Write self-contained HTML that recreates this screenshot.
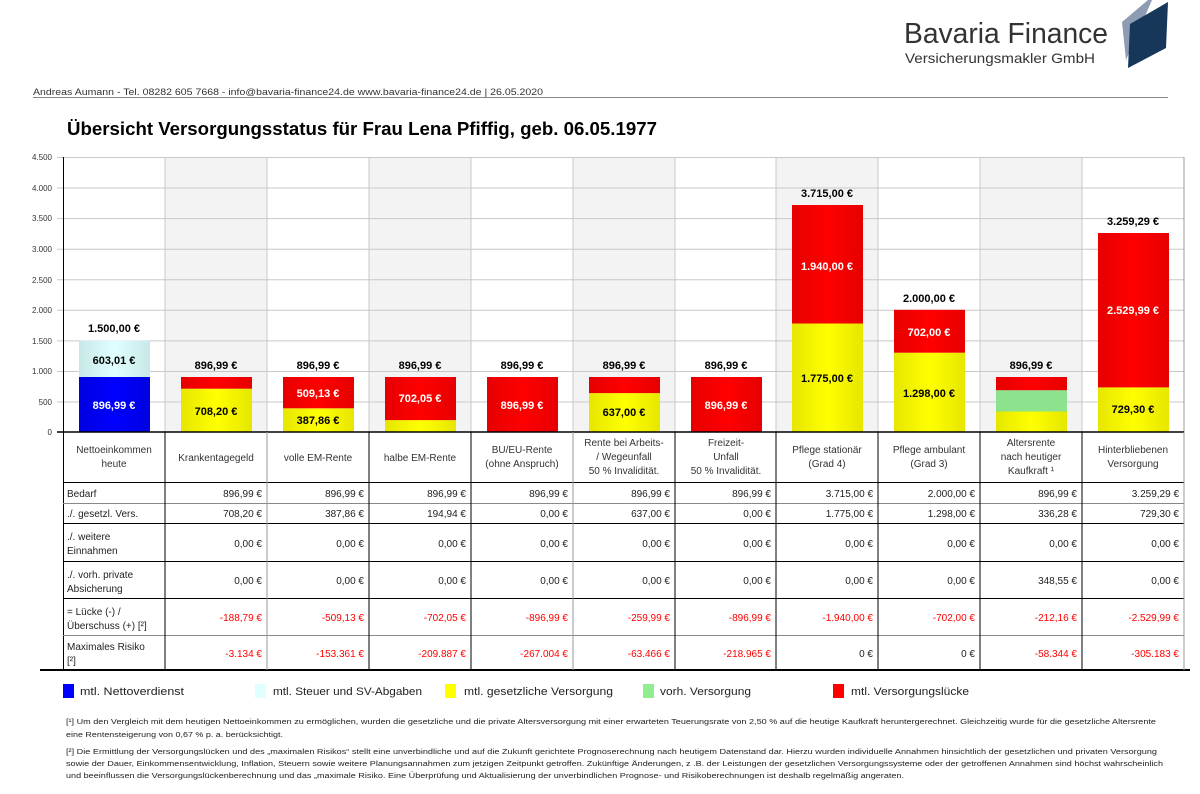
<!DOCTYPE html>
<html><head><meta charset="utf-8"><style>
body{margin:0;background:#fff}
svg{display:block;font-family:"Liberation Sans",sans-serif}
</style></head><body>
<svg width="1200" height="794" viewBox="0 0 1200 794" xmlns="http://www.w3.org/2000/svg">
<defs>
<linearGradient id="gy" x1="0" x2="1"><stop offset="0" stop-color="#e6e600"/><stop offset="0.5" stop-color="#ffff00"/><stop offset="1" stop-color="#e6e600"/></linearGradient>
<linearGradient id="gr" x1="0" x2="1"><stop offset="0" stop-color="#e60000"/><stop offset="0.5" stop-color="#ff0000"/><stop offset="1" stop-color="#e60000"/></linearGradient>
<linearGradient id="gb" x1="0" x2="1"><stop offset="0" stop-color="#0000e0"/><stop offset="0.5" stop-color="#0000ff"/><stop offset="1" stop-color="#0000e0"/></linearGradient>
<linearGradient id="gc" x1="0" x2="1"><stop offset="0" stop-color="#c8e8e8"/><stop offset="0.5" stop-color="#e0ffff"/><stop offset="1" stop-color="#c8e8e8"/></linearGradient>
</defs>
<!-- logo -->
<text x="904" y="43" font-size="29" fill="#333" textLength="204" lengthAdjust="spacingAndGlyphs">Bavaria Finance</text>
<text x="905" y="63" font-size="14" fill="#333" textLength="190" lengthAdjust="spacingAndGlyphs">Versicherungsmakler GmbH</text>
<polygon points="1122,22 1148,0 1152,0 1126,60" fill="#8d9bb3"/>
<polygon points="1130,24 1168,2 1166,48 1128,68" fill="#16365a"/>
<!-- header line -->
<text x="33" y="95" font-size="9" fill="#333" textLength="510" lengthAdjust="spacingAndGlyphs">Andreas Aumann - Tel. 08282 605 7668 - info@bavaria-finance24.de  www.bavaria-finance24.de  | 26.05.2020</text>
<rect x="33" y="97" width="1135" height="1" fill="#888"/>
<text x="67" y="135" font-size="18" font-weight="bold" fill="#000" textLength="590" lengthAdjust="spacingAndGlyphs">Übersicht Versorgungsstatus für Frau Lena Pfiffig, geb. 06.05.1977</text>
<!-- shaded columns -->
<g fill="#f3f3f3">
<rect x="165" y="157" width="102" height="275"/>
<rect x="369" y="157" width="102" height="275"/>
<rect x="573" y="157" width="102" height="275"/>
<rect x="776" y="157" width="102" height="275"/>
<rect x="980" y="157" width="102" height="275"/>
</g>
<!-- grid -->
<g stroke="#c8c8c8" stroke-width="1">
<line x1="57" x2="1184" y1="157.5" y2="157.5"/>
<line x1="57" x2="1184" y1="188" y2="188"/>
<line x1="57" x2="1184" y1="218.6" y2="218.6"/>
<line x1="57" x2="1184" y1="249.2" y2="249.2"/>
<line x1="57" x2="1184" y1="279.8" y2="279.8"/>
<line x1="57" x2="1184" y1="310.3" y2="310.3"/>
<line x1="57" x2="1184" y1="340.9" y2="340.9"/>
<line x1="57" x2="1184" y1="371.5" y2="371.5"/>
<line x1="57" x2="1184" y1="402" y2="402"/>
<line x1="165" x2="165" y1="157" y2="432"/><line x1="267" x2="267" y1="157" y2="432"/>
<line x1="369" x2="369" y1="157" y2="432"/><line x1="471" x2="471" y1="157" y2="432"/>
<line x1="573" x2="573" y1="157" y2="432"/><line x1="675" x2="675" y1="157" y2="432"/>
<line x1="776" x2="776" y1="157" y2="432"/><line x1="878" x2="878" y1="157" y2="432"/>
<line x1="980" x2="980" y1="157" y2="432"/><line x1="1082" x2="1082" y1="157" y2="432"/>
<line x1="1184" x2="1184" y1="157" y2="432" stroke="#999"/>
</g>
<g font-size="8" fill="#333" text-anchor="end">
<text x="52" y="160">4.500</text><text x="52" y="191">4.000</text><text x="52" y="221">3.500</text>
<text x="52" y="252">3.000</text><text x="52" y="283">2.500</text><text x="52" y="313">2.000</text>
<text x="52" y="344">1.500</text><text x="52" y="374">1.000</text><text x="52" y="405">500</text><text x="52" y="435">0</text>
</g>
<!-- bars -->
<rect x="79" y="377" width="71" height="55" fill="url(#gb)"/>
<rect x="79" y="340.5" width="71" height="36.5" fill="url(#gc)"/>
<rect x="181" y="388.7" width="71" height="43.3" fill="url(#gy)"/><rect x="181" y="377" width="71" height="11.7" fill="url(#gr)"/>
<rect x="283" y="408.3" width="71" height="23.7" fill="url(#gy)"/><rect x="283" y="377" width="71" height="31.3" fill="url(#gr)"/>
<rect x="385" y="420.1" width="71" height="11.9" fill="url(#gy)"/><rect x="385" y="377" width="71" height="43.1" fill="url(#gr)"/>
<rect x="487" y="377" width="71" height="55" fill="url(#gr)"/>
<rect x="589" y="393.1" width="71" height="38.9" fill="url(#gy)"/><rect x="589" y="377" width="71" height="16.1" fill="url(#gr)"/>
<rect x="691" y="377" width="71" height="55" fill="url(#gr)"/>
<rect x="792" y="323.5" width="71" height="108.5" fill="url(#gy)"/><rect x="792" y="205" width="71" height="118.5" fill="url(#gr)"/>
<rect x="894" y="352.7" width="71" height="79.3" fill="url(#gy)"/><rect x="894" y="309.8" width="71" height="42.9" fill="url(#gr)"/>
<rect x="996" y="411.5" width="71" height="20.5" fill="url(#gy)"/><rect x="996" y="390.2" width="71" height="21.3" fill="#8de28d"/><rect x="996" y="377" width="71" height="13.2" fill="url(#gr)"/>
<rect x="1098" y="387.4" width="71" height="44.6" fill="url(#gy)"/><rect x="1098" y="233" width="71" height="154.4" fill="url(#gr)"/>
<!-- bar labels -->
<g font-size="11" font-weight="bold" text-anchor="middle" fill="#000">
<text x="114" y="332">1.500,00 €</text><text x="114" y="364">603,01 €</text><text x="114" y="409" fill="#fff">896,99 €</text>
<text x="216" y="369">896,99 €</text><text x="216" y="415">708,20 €</text>
<text x="318" y="369">896,99 €</text><text x="318" y="397" fill="#fff">509,13 €</text><text x="318" y="424">387,86 €</text>
<text x="420" y="369">896,99 €</text><text x="420" y="402" fill="#fff">702,05 €</text>
<text x="522" y="369">896,99 €</text><text x="522" y="409" fill="#fff">896,99 €</text>
<text x="624" y="369">896,99 €</text><text x="624" y="416">637,00 €</text>
<text x="726" y="369">896,99 €</text><text x="726" y="409" fill="#fff">896,99 €</text>
<text x="827" y="197">3.715,00 €</text><text x="827" y="270" fill="#fff">1.940,00 €</text><text x="827" y="382">1.775,00 €</text>
<text x="929" y="302">2.000,00 €</text><text x="929" y="336" fill="#fff">702,00 €</text><text x="929" y="397">1.298,00 €</text>
<text x="1031" y="369">896,99 €</text>
<text x="1133" y="225">3.259,29 €</text><text x="1133" y="314" fill="#fff">2.529,99 €</text><text x="1133" y="413">729,30 €</text>
</g>
<!-- axis -->
<line x1="63.5" x2="63.5" y1="157" y2="670" stroke="#000"/>
<line x1="57" x2="1184" y1="432" y2="432" stroke="#000" stroke-width="1.5"/>
<!-- table lines -->
<g stroke="#000" stroke-width="1">
<line x1="63" x2="1184" y1="482.5" y2="482.5"/>
<line x1="63" x2="1184" y1="503.5" y2="503.5" stroke="#888"/>
<line x1="63" x2="1184" y1="523.5" y2="523.5"/>
<line x1="63" x2="1184" y1="561.5" y2="561.5"/>
<line x1="63" x2="1184" y1="598.5" y2="598.5"/>
<line x1="63" x2="1184" y1="635.5" y2="635.5" stroke="#888"/>
<line x1="40" x2="1190" y1="670" y2="670" stroke-width="2"/>
<line x1="165" x2="165" y1="432" y2="670"/><line x1="267" x2="267" y1="432" y2="670" stroke="#999"/>
<line x1="369" x2="369" y1="432" y2="670"/><line x1="471" x2="471" y1="432" y2="670"/>
<line x1="573" x2="573" y1="432" y2="670" stroke="#999"/><line x1="675" x2="675" y1="432" y2="670"/>
<line x1="776" x2="776" y1="432" y2="670"/><line x1="878" x2="878" y1="432" y2="670"/>
<line x1="980" x2="980" y1="432" y2="670"/><line x1="1082" x2="1082" y1="432" y2="670"/>
<line x1="1184" x2="1184" y1="432" y2="670" stroke="#999"/>
</g>
<g font-size="10" fill="#333" text-anchor="middle">
<text x="114" y="453">Nettoeinkommen</text><text x="114" y="467">heute</text>
<text x="216" y="461">Krankentagegeld</text>
<text x="318" y="461">volle EM-Rente</text>
<text x="420" y="461">halbe EM-Rente</text>
<text x="522" y="453">BU/EU-Rente</text><text x="522" y="467">(ohne Anspruch)</text>
<text x="624" y="446">Rente bei Arbeits-</text><text x="624" y="460">/ Wegeunfall</text><text x="624" y="474">50 % Invalidität.</text>
<text x="726" y="446">Freizeit-</text><text x="726" y="460">Unfall</text><text x="726" y="474">50 % Invalidität.</text>
<text x="827" y="453">Pflege stationär</text><text x="827" y="467">(Grad 4)</text>
<text x="929" y="453">Pflege ambulant</text><text x="929" y="467">(Grad 3)</text>
<text x="1031" y="446">Altersrente</text><text x="1031" y="460">nach heutiger</text><text x="1031" y="474">Kaufkraft ¹</text>
<text x="1133" y="453">Hinterbliebenen</text><text x="1133" y="467">Versorgung</text>
</g>
<g font-size="10" fill="#222">
<text x="67" y="497">Bedarf</text><text x="67" y="517">./. gesetzl. Vers.</text>
<text x="67" y="540">./. weitere</text><text x="67" y="554">Einnahmen</text>
<text x="67" y="578">./. vorh. private</text><text x="67" y="592">Absicherung</text>
<text x="67" y="615">= Lücke (-) /</text><text x="67" y="629">Überschuss (+) [²]</text>
<text x="67" y="650">Maximales Risiko</text><text x="67" y="664">[²]</text>
</g>
<g font-size="10" fill="#222" text-anchor="end">
<text x="262" y="497">896,99 €</text><text x="364" y="497">896,99 €</text><text x="466" y="497">896,99 €</text><text x="568" y="497">896,99 €</text><text x="670" y="497">896,99 €</text><text x="771" y="497">896,99 €</text><text x="873" y="497">3.715,00 €</text><text x="975" y="497">2.000,00 €</text><text x="1077" y="497">896,99 €</text><text x="1179" y="497">3.259,29 €</text>
<text x="262" y="517">708,20 €</text><text x="364" y="517">387,86 €</text><text x="466" y="517">194,94 €</text><text x="568" y="517">0,00 €</text><text x="670" y="517">637,00 €</text><text x="771" y="517">0,00 €</text><text x="873" y="517">1.775,00 €</text><text x="975" y="517">1.298,00 €</text><text x="1077" y="517">336,28 €</text><text x="1179" y="517">729,30 €</text>
<text x="262" y="547">0,00 €</text><text x="364" y="547">0,00 €</text><text x="466" y="547">0,00 €</text><text x="568" y="547">0,00 €</text><text x="670" y="547">0,00 €</text><text x="771" y="547">0,00 €</text><text x="873" y="547">0,00 €</text><text x="975" y="547">0,00 €</text><text x="1077" y="547">0,00 €</text><text x="1179" y="547">0,00 €</text>
<text x="262" y="584">0,00 €</text><text x="364" y="584">0,00 €</text><text x="466" y="584">0,00 €</text><text x="568" y="584">0,00 €</text><text x="670" y="584">0,00 €</text><text x="771" y="584">0,00 €</text><text x="873" y="584">0,00 €</text><text x="975" y="584">0,00 €</text><text x="1077" y="584">348,55 €</text><text x="1179" y="584">0,00 €</text>
</g>
<g font-size="10" fill="#f00" text-anchor="end">
<text x="262" y="621">-188,79 €</text><text x="364" y="621">-509,13 €</text><text x="466" y="621">-702,05 €</text><text x="568" y="621">-896,99 €</text><text x="670" y="621">-259,99 €</text><text x="771" y="621">-896,99 €</text><text x="873" y="621">-1.940,00 €</text><text x="975" y="621">-702,00 €</text><text x="1077" y="621">-212,16 €</text><text x="1179" y="621">-2.529,99 €</text>
<text x="262" y="657">-3.134 €</text><text x="364" y="657">-153.361 €</text><text x="466" y="657">-209.887 €</text><text x="568" y="657">-267.004 €</text><text x="670" y="657">-63.466 €</text><text x="771" y="657">-218.965 €</text><text x="873" y="657" fill="#222">0 €</text><text x="975" y="657" fill="#222">0 €</text><text x="1077" y="657">-58.344 €</text><text x="1179" y="657">-305.183 €</text>
</g>
<!-- legend -->
<g font-size="11" fill="#222">
<rect x="63" y="684" width="11" height="14" fill="#0000ff"/><text x="80" y="695" textLength="104" lengthAdjust="spacingAndGlyphs">mtl. Nettoverdienst</text>
<rect x="255" y="684" width="11" height="14" fill="#e0ffff"/><text x="273" y="695" textLength="149" lengthAdjust="spacingAndGlyphs">mtl. Steuer und SV-Abgaben</text>
<rect x="445" y="684" width="11" height="14" fill="#ffff00"/><text x="464" y="695" textLength="149" lengthAdjust="spacingAndGlyphs">mtl. gesetzliche Versorgung</text>
<rect x="643" y="684" width="11" height="14" fill="#90ee90"/><text x="660" y="695" textLength="91" lengthAdjust="spacingAndGlyphs">vorh. Versorgung</text>
<rect x="833" y="684" width="11" height="14" fill="#ff0000"/><text x="851" y="695" textLength="118" lengthAdjust="spacingAndGlyphs">mtl. Versorgungslücke</text>
</g>
<!-- footnotes -->
<g font-size="7.6" fill="#222">
<text x="66" y="724" textLength="1090" lengthAdjust="spacingAndGlyphs">[¹] Um den Vergleich mit dem heutigen Nettoeinkommen zu ermöglichen, wurden die gesetzliche und die private Altersversorgung mit einer erwarteten Teuerungsrate von 2,50 % auf die heutige Kaufkraft heruntergerechnet. Gleichzeitig wurde für die gesetzliche Altersrente</text>
<text x="66" y="737" textLength="217" lengthAdjust="spacingAndGlyphs">eine Rentensteigerung von 0,67 % p. a. berücksichtigt.</text>
<text x="66" y="754" textLength="1091" lengthAdjust="spacingAndGlyphs">[²] Die Ermittlung der Versorgungslücken und des „maximalen Risikos“ stellt eine unverbindliche und auf die Zukunft gerichtete Prognoserechnung nach heutigem Datenstand dar. Hierzu wurden individuelle Annahmen hinsichtlich der gesetzlichen und privaten Versorgung</text>
<text x="66" y="766" textLength="1097" lengthAdjust="spacingAndGlyphs">sowie der Dauer, Einkommensentwicklung, Inflation, Steuern sowie weitere Planungsannahmen zum jetzigen Zeitpunkt getroffen. Zukünftige Änderungen, z .B. der Leistungen der gesetzlichen Versorgungssysteme oder der getroffenen Annahmen sind höchst wahrscheinlich</text>
<text x="66" y="778" textLength="838" lengthAdjust="spacingAndGlyphs">und beeinflussen die Versorgungslückenberechnung und das „maximale Risiko. Eine Überprüfung und Aktualisierung der unverbindlichen Prognose- und Risikoberechnungen ist deshalb regelmäßig angeraten.</text>
</g>
</svg>
</body></html>
